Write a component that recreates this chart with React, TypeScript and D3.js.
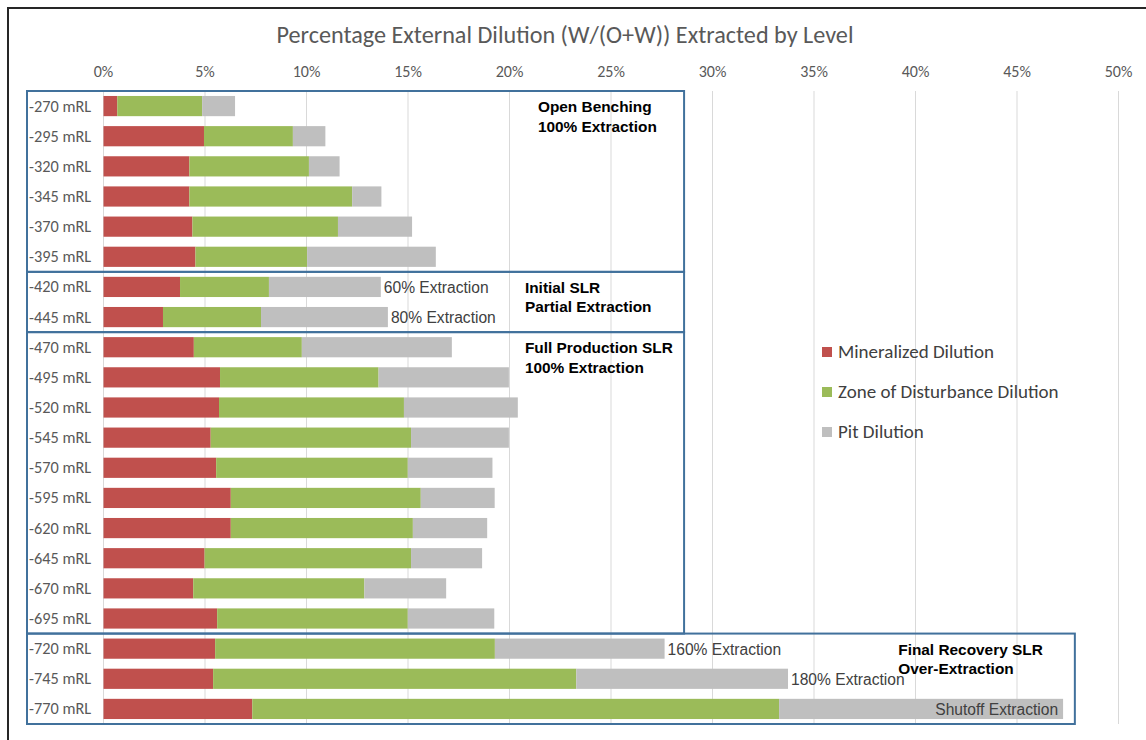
import React from "react";
import * as d3 from "d3";

const levels = [
  "-270 mRL", "-295 mRL", "-320 mRL", "-345 mRL", "-370 mRL", "-395 mRL",
  "-420 mRL", "-445 mRL",
  "-470 mRL", "-495 mRL", "-520 mRL", "-545 mRL", "-570 mRL", "-595 mRL",
  "-620 mRL", "-645 mRL", "-670 mRL", "-695 mRL",
  "-720 mRL", "-745 mRL", "-770 mRL",
];
const mineralized = [0.68, 4.95, 4.23, 4.23, 4.38, 4.53, 3.77, 2.93, 4.45, 5.74, 5.69, 5.28, 5.55, 6.27, 6.27, 4.98, 4.42, 5.6, 5.5, 5.4, 7.33];
const zoneDisturbance = [4.18, 4.38, 5.89, 8.02, 7.17, 5.5, 4.38, 4.83, 5.32, 7.81, 9.11, 9.87, 9.44, 9.36, 8.97, 10.17, 8.43, 9.39, 13.78, 17.89, 25.95];
const pitDilution = [1.62, 1.6, 1.51, 1.44, 3.65, 6.34, 5.51, 6.25, 7.39, 6.42, 5.61, 4.82, 4.17, 3.64, 3.66, 3.5, 4.03, 4.26, 8.36, 10.43, 13.99];
const seriesNames = ["Mineralized Dilution", "Zone of Disturbance Dilution", "Pit Dilution"];
const seriesColors = ["#C0504D", "#9BBB59", "#BFBFBF"];
const xTicks = [0, 5, 10, 15, 20, 25, 30, 35, 40, 45, 50];
const barLabels = [
  { level: "-420 mRL", text: "60% Extraction", inside: false },
  { level: "-445 mRL", text: "80% Extraction", inside: false },
  { level: "-720 mRL", text: "160% Extraction", inside: false },
  { level: "-745 mRL", text: "180% Extraction", inside: false },
  { level: "-770 mRL", text: "Shutoff Extraction", inside: true },
];
const groups = [
  { from: "-270 mRL", to: "-395 mRL", right: 28.6, lines: ["Open Benching", "100% Extraction"], textX: 21.4 },
  { from: "-420 mRL", to: "-445 mRL", right: 28.6, lines: ["Initial SLR", "Partial Extraction"], textX: 20.76 },
  { from: "-470 mRL", to: "-695 mRL", right: 28.6, lines: ["Full Production SLR", "100% Extraction"], textX: 20.76 },
  { from: "-720 mRL", to: "-770 mRL", right: 47.85, lines: ["Final Recovery SLR", "Over-Extraction"], textX: 39.15 },
];

const W = 1146, H = 740;
const calibri = "Carlito, Lato, 'Open Sans', sans-serif";
const arial = "'Liberation Sans', Arial, sans-serif";

export default function App() {
  const x = d3.scaleLinear().domain([0, 50]).range([103.5, 1118.5]);
  const y = d3.scaleBand<string>().domain(levels).range([91, 724]).paddingInner(0.33).paddingOuter(0.165);
  const step = y.step();
  const gap = (step - y.bandwidth()) / 2;

  const rows = levels.map((lv, i) => ({ level: lv, m: mineralized[i], z: zoneDisturbance[i], p: pitDilution[i] }));
  const stack = d3.stack<any>().keys(["m", "z", "p"])(rows);
  const totals = new Map(rows.map(r => [r.level, r.m + r.z + r.p]));

  const boxLeft = 27;

  return (
    <svg width={W} height={H} style={{ position: "absolute", left: 0, top: 0, background: "#fff" }}>
      <rect x={0} y={0} width={W} height={H} fill="#fff" />
      <path d={`M8,${H} L8,8 L${W},8`} fill="none" stroke="#262626" strokeWidth={2} />
      <text x={565} y={43} textAnchor="middle" fontFamily={calibri} fontSize={24.2} fill="#595959">
        Percentage External Dilution (W/(O+W)) Extracted by Level
      </text>
      {xTicks.map(t => (
        <line key={t} x1={x(t)} x2={x(t)} y1={91} y2={724} stroke="#D9D9D9" strokeWidth={1} />
      ))}
      {xTicks.map(t => (
        <text key={"l" + t} x={x(t)} y={77} textAnchor="middle" fontFamily={calibri} fontSize={16} fill="#595959">
          {t}%
        </text>
      ))}
      {stack.map((s, si) => (
        <g key={si} fill={seriesColors[si]}>
          {s.map((d, i) => (
            <rect key={i} x={x(d[0])} y={y(levels[i])} width={x(d[1]) - x(d[0])} height={y.bandwidth()} />
          ))}
        </g>
      ))}
      {levels.map(lv => (
        <text key={lv} x={29} y={(y(lv) as number) + y.bandwidth() / 2 + 5.5} fontFamily={calibri} fontSize={16.3} fill="#595959">
          {lv}
        </text>
      ))}
      {barLabels.map(b => {
        const t = totals.get(b.level) as number;
        const cy = (y(b.level) as number) + y.bandwidth() / 2 + 6;
        return (
          <text key={b.level} x={b.inside ? x(t) - 5 : x(t) + 3} y={cy} textAnchor={b.inside ? "end" : "start"}
            fontFamily={arial} fontSize={15.6} fill="#404040">
            {b.text}
          </text>
        );
      })}
      {groups.map((g, gi) => {
        const top = (y(g.from) as number) - gap;
        const bottom = (y(g.to) as number) + y.bandwidth() + gap;
        return (
          <g key={gi}>
            <rect x={boxLeft} y={top} width={x(g.right) - boxLeft} height={bottom - top} fill="none" stroke="#41719C" strokeWidth={2} />
            {g.lines.map((ln, li) => (
              <text key={li} x={x(g.textX)} y={(y(g.from) as number) + y.bandwidth() / 2 + 6 + li * 19.5}
                fontFamily={arial} fontWeight="bold" fontSize={15.4} fill="#000">
                {ln}
              </text>
            ))}
          </g>
        );
      })}
      {seriesNames.map((n, i) => (
        <g key={n} transform={`translate(822,${352 + i * 40})`}>
          <rect x={0} y={-5} width={10} height={10} fill={seriesColors[i]} />
          <text x={16} y={6} fontFamily={calibri} fontSize={19} fill="#404040">{n}</text>
        </g>
      ))}
    </svg>
  );
}
